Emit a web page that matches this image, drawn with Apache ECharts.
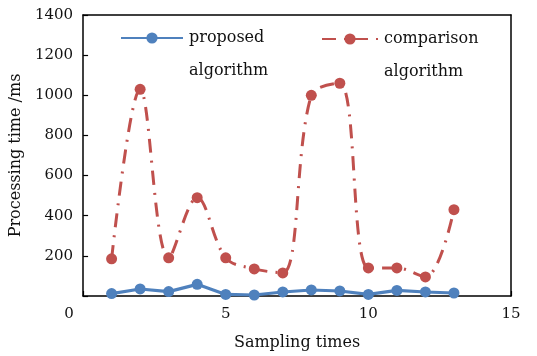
<!DOCTYPE html>
<html><head><meta charset="utf-8">
<script src="https://cdn.jsdelivr.net/npm/echarts@6/dist/echarts.min.js"></script>
<style>html,body{margin:0;padding:0;background:#fff}#c{width:537px;height:356px}</style>
</head><body><div id="c"></div>
<script>
const sampling = [1,2,3,4,5,6,7,8,9,10,11,12,13];
const proposed = [12,35,22,58,8,5,20,30,25,8,28,20,15];
const comparison = [185,1030,190,490,190,135,115,1000,1060,140,140,95,430];
const xTicks = [0,5,10,15];
const yTicks = [200,400,600,800,1000,1200,1400];
const names = ['proposed algorithm','comparison algorithm'];

const FONT = 'DejaVu Serif';
const TXT = '#111';
const chart = echarts.init(document.getElementById('c'));
const legendText = {
  fontFamily: FONT, fontSize: 16, color: TXT,
  rich: {
    e: {fontFamily: FONT, fontSize: 16, lineHeight: 33, padding:[0,0,0,1]},
    a: {fontFamily: FONT, fontSize: 16, lineHeight: 33, color: TXT, padding:[0,0,0,1]}
  }
};
const fmt = n => { const p = n.split(' '); return '{e| }\n{a|' + p[0] + '}\n{a|' + p[1] + '}'; };
const frameAxis = {
  show: true, axisLine: {show: true, onZero: false, lineStyle: {color: '#000', width: 1.5}},
  axisTick: {show: false}, axisLabel: {show: false}, splitLine: {show: false}
};
chart.setOption({
  animation: false,
  grid: {left: 83, right: 26, top: 15, bottom: 60},
  legend: [
    {data: [names[0]], left: 115, top: -8, itemWidth: 62, itemHeight: 14, formatter: fmt, textStyle: legendText, selectedMode: false},
    {data: [names[1]], left: 316, top: -7, itemWidth: 56, itemHeight: 14, formatter: fmt, textStyle: legendText, selectedMode: false}
  ],
  xAxis: [{
    type: 'value', min: 0, max: 15, interval: 5,
    name: 'Sampling times', nameLocation: 'middle', nameGap: 39,
    nameTextStyle: {fontFamily: FONT, fontSize: 16, color: TXT},
    axisLine: {show: true, onZero: false, lineStyle: {color: '#000', width: 1.5}},
    axisTick: {show: true, inside: true, length: 5, lineStyle: {color: '#000', width: 1.2}},
    splitLine: {show: false},
    axisLabel: {
      margin: 11, fontFamily: FONT, fontSize: 15, color: TXT,
      formatter: v => xTicks.indexOf(v) === 0 ? '{z|' + v + '}' : String(v),
      rich: {z: {fontFamily: FONT, fontSize: 15, color: TXT, padding: [0, 28, 0, 0]}}
    }
  }, Object.assign({type: 'value', position: 'top', min: 0, max: 15}, frameAxis)],
  yAxis: [{
    type: 'value', min: 0, max: 1400, interval: 200,
    name: 'Processing time /ms', nameLocation: 'middle', nameGap: 57,
    nameTextStyle: {fontFamily: FONT, fontSize: 16, color: TXT},
    axisLine: {show: true, onZero: false, lineStyle: {color: '#000', width: 1.5}},
    axisTick: {show: true, inside: true, length: 5, lineStyle: {color: '#000', width: 1.2}},
    splitLine: {show: false},
    axisLabel: {
      margin: 10, fontFamily: FONT, fontSize: 15, color: TXT,
      formatter: v => yTicks.indexOf(v) >= 0 ? String(v) : ''
    }
  }, Object.assign({type: 'value', position: 'right', min: 0, max: 1400}, frameAxis)],
  series: [
    {
      name: names[0], type: 'line',
      data: sampling.map((x, i) => [x, proposed[i]]),
      symbol: 'circle', symbolSize: 11,
      itemStyle: {color: '#4f81bd'},
      lineStyle: {color: '#4f81bd', width: 3.2}
    },
    {
      name: names[1], type: 'line', smooth: 0.35,
      data: sampling.map((x, i) => [x, comparison[i]]),
      symbol: 'circle', symbolSize: 11,
      itemStyle: {color: '#c0504d'},
      lineStyle: {color: '#c0504d', width: 3, type: [14, 8, 2, 8]}
    }
  ]
});
</script></body></html>
